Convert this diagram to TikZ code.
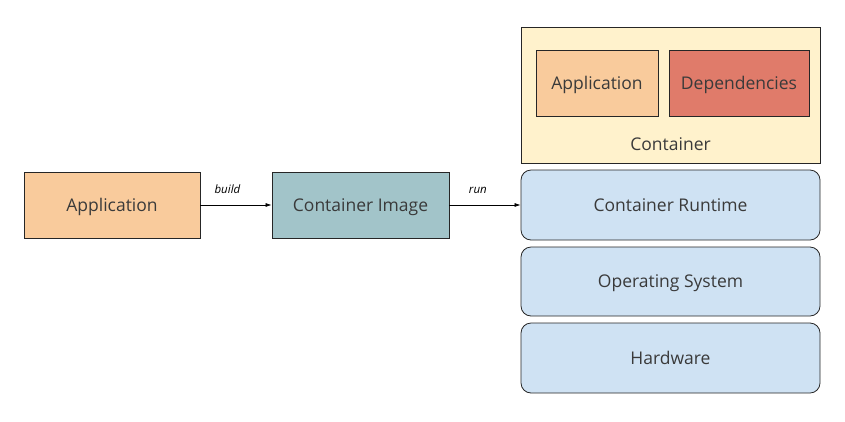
\documentclass[tikz,border=0pt]{standalone}
\usepackage{fontspec}
\setmainfont{Open Sans}
\usetikzlibrary{positioning,arrows.meta}
\definecolor{appfill}{HTML}{F9CB9C}
\definecolor{imgfill}{HTML}{A2C4C9}
\definecolor{depfill}{HTML}{E07B6A}
\definecolor{ctrfill}{HTML}{FFF2CC}
\definecolor{layfill}{HTML}{CFE2F3}
\definecolor{txt}{HTML}{3A3A3A}
\tikzset{
  boxtext/.style={font=\fontsize{17.5}{20}\selectfont,text=txt,text height=12.5pt,text depth=0pt},
  box/.style={boxtext,draw=black!85,line width=0.8pt,inner sep=0pt},
  layer/.style={box,fill=layfill,rounded corners=10pt,minimum width=299pt,minimum height=70pt},
  flow/.style={-{Latex[length=6pt,width=4pt]},line width=0.7pt},
  flowlbl/.style={font=\itshape\fontsize{11.5}{13}\selectfont,text=black,above=11pt,
    inner sep=0pt,text depth=0pt},
}
\begin{document}
\begin{tikzpicture}[x=1pt,y=-1pt]
  \useasboundingbox (0,0) rectangle (845,421);
  % build and run
  \node[box,fill=appfill,minimum width=176pt,minimum height=66pt] (app) at (112,205) {Application};
  \node[box,fill=imgfill,minimum width=177pt,minimum height=66pt] (img) at (360.5,205) {Container Image};
  % container with its contents
  \node[box,fill=ctrfill,minimum width=299pt,minimum height=136pt] (ctr) at (670.5,95) {};
  \node[box,fill=appfill,minimum width=122pt,minimum height=66pt] (capp) at (597,83) {Application};
  \node[box,fill=depfill,minimum width=140pt,minimum height=66pt] (dep) at (739,83) {Dependencies};
  \node[boxtext] (ctrlbl) at (670.5,144) {Container};
  % host layers
  \node[layer] (rt) at (670.5,205) {Container Runtime};
  \node[layer,minimum height=69pt] (os) at (670.5,281.5) {Operating System};
  \node[layer] (hw) at (670.5,358) {Hardware};
  \draw[flow] (app) -- node[flowlbl,pos=0.38] {build} (img);
  \draw[flow] (img) -- node[flowlbl,pos=0.4] {run} (rt);
\end{tikzpicture}
\end{document}
